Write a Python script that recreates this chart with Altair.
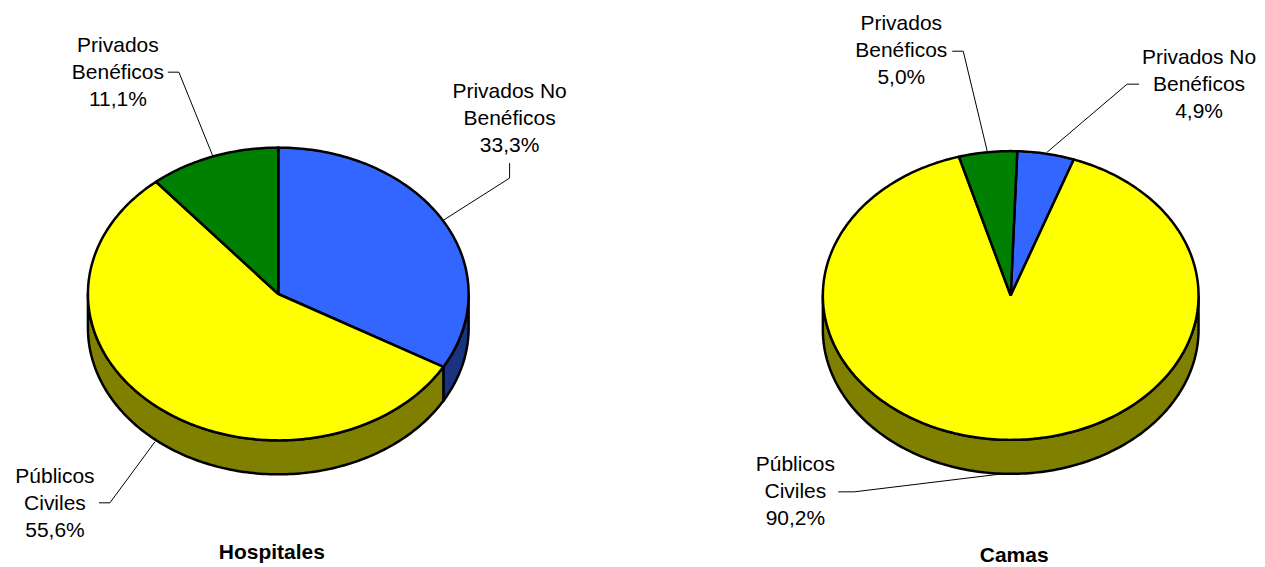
import math
import altair as alt
import pandas as pd

# Values
hosp_names = ["Privados No Benéficos", "Públicos Civiles", "Privados Benéficos"]
hosp_values = [33.3, 55.6, 11.1]
cama_values = [4.9, 90.2, 5.0]
colors = ["#3366FF", "#FFFF00", "#008000"]
wall_colors = ["#1A3380", "#808000", "#004000"]

texts = [
    ["Privados\nBenéficos\n11,1%", 118, 46],
    ["Privados No\nBenéficos\n33,3%", 510, 92],
    ["Públicos\nCiviles\n55,6%", 55, 477],
    ["Privados\nBenéficos\n5,0%", 902, 24],
    ["Privados No\nBenéficos\n4,9%", 1200, 58],
    ["Públicos\nCiviles\n90,2%", 796, 465],
]
titles = [["Hospitales", 272, 553], ["Camas", 1015, 556]]
leaders = [
    [(168, 72), (179, 72), (213, 156)],
    [(510, 163), (510, 178), (444, 220)],
    [(99, 503), (110, 503), (155, 442)],
    [(953, 51), (964, 51), (988, 151)],
    [(1140, 84), (1128, 84), (1048, 152)],
    [(839, 492), (855, 492), (1003, 474)],
]

# pie geometry: centre x, centre y, radius x, radius y, depth, start angle (deg)
pies = [
    (hosp_values, 278.5, 294, 190.5, 146.5, 34, 0),
    (cama_values, 1011.5, 295.5, 188, 144.5, 34, 2),
]

X = alt.X("x:Q", scale=alt.Scale(domain=[8, 1257], nice=False, zero=False), axis=None)
Y = alt.Y("y:Q", scale=alt.Scale(domain=[559, 8], nice=False, zero=False), axis=None)


def pt(cx, cy, rx, ry, deg, dy=0):
    a = math.radians(deg)
    return (cx + rx * math.sin(a), cy - ry * math.cos(a) + dy)


def poly(points, fill, width=2.5):
    df = pd.DataFrame({"x": [p[0] for p in points], "y": [p[1] for p in points],
                       "i": range(len(points))})
    return alt.Chart(df).mark_line(
        fill=fill, stroke="black", strokeWidth=width, strokeJoin="round", clip=False
    ).encode(x=X, y=Y, order=alt.Order("i:Q"))


def steps(a, b):
    n = max(2, int(abs(b - a)) + 1)
    return [a + (b - a) * k / n for k in range(n + 1)]


layers = []
for values, cx, cy, rx, ry, d, start in pies:
    total = sum(values)
    a = start
    spans = []
    for v, c, wc in zip(values, colors, wall_colors):
        b = a + v / total * 360
        spans.append((a, b, c, wc))
        a = b
    # side walls: only the front half of the rim is visible
    for a, b, c, wc in spans:
        for shift in (0, 360):
            lo, hi = max(a, 90 + shift), min(b, 270 + shift)
            if lo < hi:
                top = [pt(cx, cy, rx, ry, t) for t in steps(lo, hi)]
                bot = [pt(cx, cy, rx, ry, t, d) for t in steps(hi, lo)]
                layers.append(poly(top + bot + top[:1], wc))
    # top face
    for a, b, c, wc in spans:
        arc = [pt(cx, cy, rx, ry, t) for t in steps(a, b)]
        layers.append(poly([(cx, cy)] + arc + [(cx, cy)], c))

for line in leaders:
    df = pd.DataFrame({"x": [p[0] for p in line], "y": [p[1] for p in line], "i": range(len(line))})
    layers.append(alt.Chart(df).mark_line(color="black", strokeWidth=1).encode(x=X, y=Y, order=alt.Order("i:Q")))

tdf = pd.DataFrame(texts, columns=["t", "x", "y"])
layers.append(alt.Chart(tdf).mark_text(
    font="Liberation Sans", fontSize=21, lineBreak="\n", lineHeight=27,
    align="center", baseline="middle", color="black"
).encode(x=X, y=Y, text="t:N"))

hdf = pd.DataFrame(titles, columns=["t", "x", "y"])
layers.append(alt.Chart(hdf).mark_text(
    font="Liberation Sans", fontSize=21, fontWeight="bold",
    align="center", baseline="middle", color="black"
).encode(x=X, y=Y, text="t:N"))

chart = alt.layer(*layers).properties(
    width=1249, height=551, padding=0, background="white"
).configure_view(stroke=None)

chart.save("out.html", embed_options={"renderer": "svg", "actions": False})
